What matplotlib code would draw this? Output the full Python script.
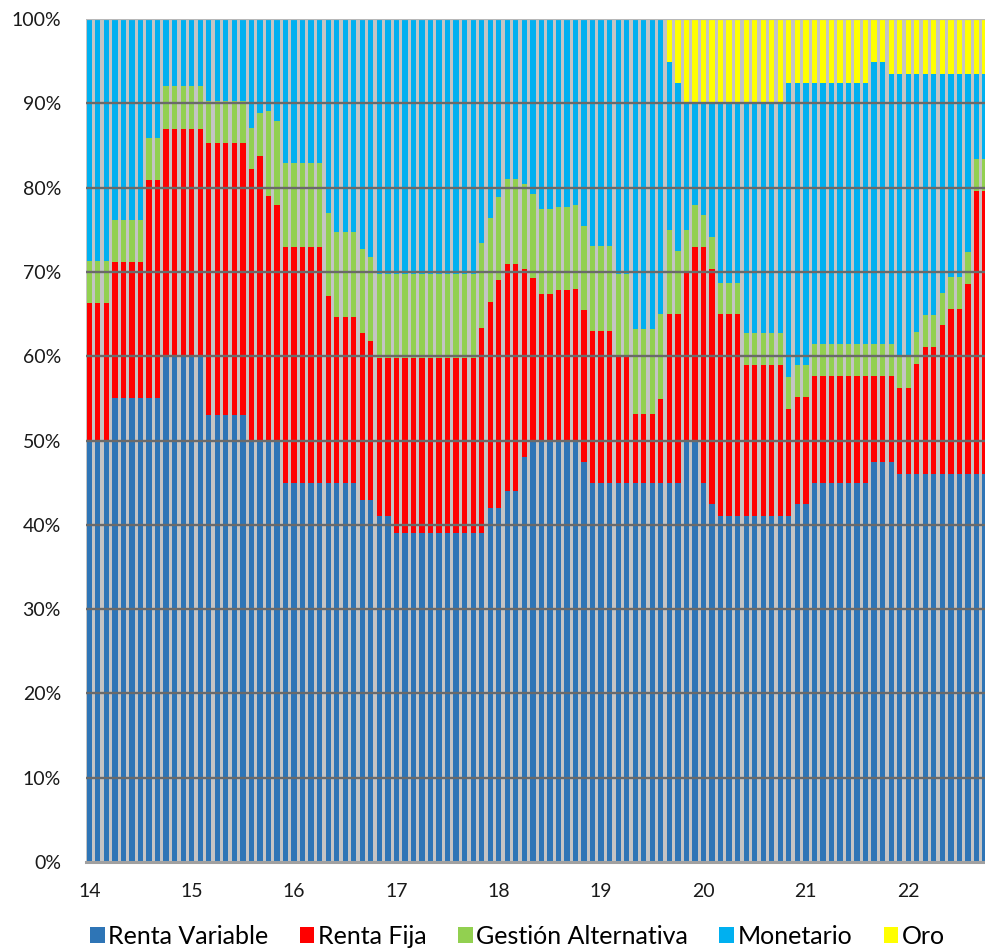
#!/usr/bin/env python3

import numpy as np
import matplotlib
matplotlib.use("Agg")
import matplotlib.pyplot as plt
from matplotlib.patches import Patch


# monthly portfolio weights (%), Jan 2014 .. Oct 2022, one row per year
l_renta_variable = [
    50, 50, 50, 55, 55, 55, 55, 55, 55, 60, 60, 60,
    60, 60, 53, 53, 53, 53, 53, 50, 50, 50, 50, 45,
    45, 45, 45, 45, 45, 45, 45, 45, 43, 43, 41, 41,
    39, 39, 39, 39, 39, 39, 39, 39, 39, 39, 39, 42,
    42, 44, 44, 48, 50, 50, 50, 50, 50, 50, 47.5, 45,
    45, 45, 45, 45, 45, 45, 45, 45, 45, 45, 50, 50,
    45, 42.5, 41, 41, 41, 41, 41, 41, 41, 41, 41, 42.5,
    42.5, 45, 45, 45, 45, 45, 45, 45, 47.5, 47.5, 47.5, 46,
    46, 46, 46, 46, 46, 46, 46, 46, 46, 46,
]
l_renta_fija = [
    16.3, 16.3, 16.3, 16.2, 16.2, 16.2, 16.2, 25.9, 25.9, 27, 27, 27,
    27, 27, 32.3, 32.3, 32.3, 32.3, 32.3, 32.2, 33.8, 29.0, 27.9, 27.9,
    27.9, 27.9, 27.9, 27.9, 22.1, 19.7, 19.7, 19.7, 19.7, 18.8, 18.8, 18.8,
    20.8, 20.8, 20.8, 20.8, 20.8, 20.8, 20.8, 20.8, 20.8, 20.8, 24.4, 24.4,
    27.0, 26.9, 26.9, 22.4, 19.3, 17.4, 17.4, 17.8, 17.8, 18.0, 18.0, 18.0,
    18.0, 18.0, 14.9, 14.9, 8.1, 8.1, 8.1, 9.9, 20, 20, 19.9, 22.9,
    27.9, 27.9, 24, 24, 24, 18, 18, 18, 18, 18, 12.7, 12.7,
    12.7, 12.7, 12.7, 12.7, 12.7, 12.7, 12.7, 12.7, 10.2, 10.2, 10.2, 10.2,
    10.2, 13.1, 15.1, 15.1, 17.7, 19.6, 19.6, 22.6, 33.6, 33.6,
]
l_gestion_alt = [
    5, 5, 5, 5, 5, 5, 5, 5, 5, 5, 5, 5,
    5, 5, 5, 5, 5, 5, 5, 4.9, 5, 10.1, 10, 10,
    10, 10, 10, 10, 9.9, 10, 10, 10, 10, 10, 10, 10,
    10, 10, 10, 10, 10, 10, 10, 10, 10, 10, 10, 10,
    9.9, 10.1, 10.1, 10, 10, 10.1, 10.1, 9.9, 9.9, 9.9, 9.9, 10.1,
    10.1, 10.1, 9.9, 9.9, 10.1, 10.1, 10.1, 10.1, 10, 7.5, 5.1, 5.0,
    3.8, 3.8, 3.7, 3.7, 3.7, 3.7, 3.7, 3.7, 3.7, 3.7, 3.8, 3.8,
    3.8, 3.7, 3.7, 3.7, 3.7, 3.7, 3.7, 3.7, 3.7, 3.7, 3.7, 3.7,
    3.7, 3.8, 3.8, 3.8, 3.8, 3.8, 3.8, 3.8, 3.8, 3.8,
]
l_monetario = [
    28.7, 28.7, 28.7, 23.8, 23.8, 23.8, 23.8, 14.1, 14.1, 8, 8, 8,
    8, 8, 9.7, 9.7, 9.7, 9.7, 9.7, 12.9, 11.2, 10.9, 12.1, 17.1,
    17.1, 17.1, 17.1, 17.1, 23.0, 25.3, 25.3, 25.3, 27.3, 28.2, 30.2, 30.2,
    30.2, 30.2, 30.2, 30.2, 30.2, 30.2, 30.2, 30.2, 30.2, 30.2, 26.6, 23.6,
    21.1, 19.0, 19.0, 19.6, 20.7, 22.5, 22.5, 22.3, 22.3, 22.1, 24.6, 26.9,
    26.9, 26.9, 30.2, 30.2, 36.8, 36.8, 36.8, 35.0, 19.9, 19.9, 15.0, 12.1,
    13.3, 15.8, 21.3, 21.3, 21.3, 27.3, 27.3, 27.3, 27.3, 27.3, 34.9, 33.4,
    33.4, 31.0, 31.0, 31.0, 31.0, 31.0, 31.0, 31.0, 33.5, 33.5, 32.1, 33.6,
    33.6, 30.6, 28.6, 28.6, 26.0, 24.1, 24.1, 21.1, 10.1, 10.1,
]
l_oro = [
    0, 0, 0, 0, 0, 0, 0, 0, 0, 0, 0, 0,
    0, 0, 0, 0, 0, 0, 0, 0, 0, 0, 0, 0,
    0, 0, 0, 0, 0, 0, 0, 0, 0, 0, 0, 0,
    0, 0, 0, 0, 0, 0, 0, 0, 0, 0, 0, 0,
    0, 0, 0, 0, 0, 0, 0, 0, 0, 0, 0, 0,
    0, 0, 0, 0, 0, 0, 0, 0, 5.1, 7.6, 10, 10,
    10, 10, 10, 10, 10, 10, 10, 10, 10, 10, 7.6, 7.6,
    7.6, 7.6, 7.6, 7.6, 7.6, 7.6, 7.6, 7.6, 5.1, 5.1, 6.5, 6.5,
    6.5, 6.5, 6.5, 6.5, 6.5, 6.5, 6.5, 6.5, 6.5, 6.5,
]

l_series_names = ["Renta Variable", "Renta Fija", "Gestión Alternativa", "Monetario", "Oro"]
l_year_labels = ["14", "15", "16", "17", "18", "19", "20", "21", "22"]

l_colors = ["#2e75b6", "#ff0000", "#92d050", "#00b0f0", "#ffff00"]


def draw_chart(s_out_fname):
    plt.rcParams['font.family'] = ['Lato', 'DejaVu Sans']

    fig = plt.figure(figsize=(9.85, 9.51), dpi=100)
    ax = fig.add_axes([0.0873, 0.0936, 0.9127, 0.8864])
    ax.set_facecolor("#c4c4c4")

    l_series = [l_renta_variable, l_renta_fija, l_gestion_alt, l_monetario, l_oro]
    na_x = np.arange(len(l_renta_variable))
    na_bottom = np.zeros(len(na_x))

    # stacked monthly bars
    for na_vals, s_color in zip(l_series, l_colors):
        na_vals = np.asarray(na_vals, dtype=float)
        ax.bar(na_x, na_vals, bottom=na_bottom, width=0.62, color=s_color,
               linewidth=0, zorder=1)
        na_bottom += na_vals

    # grid drawn over the bars, like in the original
    for i_lvl in range(10, 100, 10):
        ax.axhline(i_lvl, color="#6a6a6a", lw=1.7, zorder=3)
    ax.axhline(100, color="#b8b8b8", lw=1.6, zorder=3)

    ax.set_xlim(-0.39, 105.0)
    ax.set_ylim(0, 100)

    ax.set_yticks(np.arange(0, 101, 10))
    ax.set_yticklabels(["%d%%" % v for v in range(0, 101, 10)])
    ax.set_xticks(np.arange(0, 12 * len(l_year_labels), 12))
    ax.set_xticklabels(l_year_labels)
    ax.tick_params(axis='both', length=0, labelsize=14, colors="#1a1a1a")
    ax.tick_params(axis='y', pad=18)
    ax.tick_params(axis='x', pad=15)

    for s_side in ("top", "right", "left"):
        ax.spines[s_side].set_visible(False)
    ax.spines["bottom"].set_color("#a0a0a0")
    ax.spines["bottom"].set_linewidth(2.2)
    ax.spines["bottom"].set_zorder(4)

    l_handles = [Patch(facecolor=c, edgecolor='none') for c in l_colors]
    fig.legend(l_handles, l_series_names, loc='center', ncol=5,
               bbox_to_anchor=(0.5255, 0.0155), frameon=False, fontsize=18,
               handlelength=0.58, handleheight=0.58, handletextpad=0.15,
               columnspacing=1.25, borderpad=0.0)

    fig.savefig(s_out_fname, dpi=100)
#


if __name__ == '__main__':
    draw_chart("out.png")
#
